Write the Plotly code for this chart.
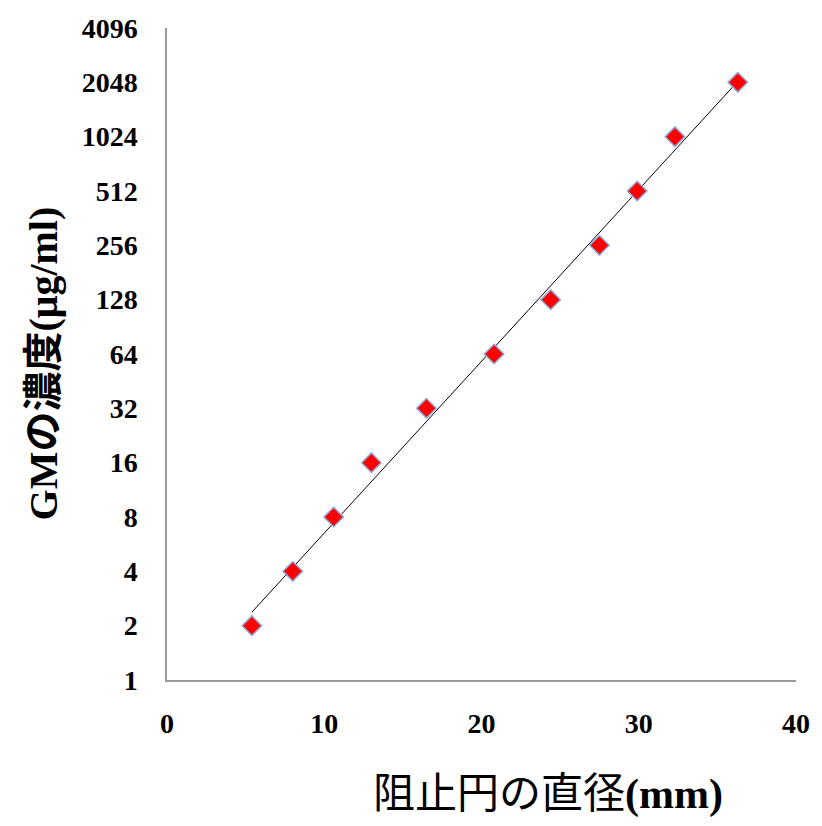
import numpy as np
import plotly.graph_objects as go

diameter_mm = [5.4, 8.0, 10.6, 13.0, 16.5, 20.8, 24.4, 27.5, 29.9, 32.3, 36.3]
gm_conc = [2, 4, 8, 16, 32, 64, 128, 256, 512, 1024, 2048]
y_ticks = [1, 2, 4, 8, 16, 32, 64, 128, 256, 512, 1024, 2048, 4096]
x_ticks = [0, 10, 20, 30, 40]

# exponential trendline (least squares on log scale)
xd = np.array(diameter_mm)
slope, intercept = np.polyfit(xd, np.log2(gm_conc), 1)
xt = np.array([xd.min(), xd.max()])
yt = 2 ** (slope * xt + intercept)

fig = go.Figure()
fig.add_trace(go.Scatter(x=xt, y=yt, mode="lines",
                         line=dict(color="black", width=1), showlegend=False))
fig.add_trace(go.Scatter(x=diameter_mm, y=gm_conc, mode="markers",
                         marker=dict(symbol="diamond", size=15, color="#ff0000",
                                     line=dict(color="#8fa8d8", width=1.5)),
                         showlegend=False))

tickfont = dict(family="Liberation Serif, DejaVu Serif, serif", size=28, color="black",
                weight="bold")
fig.update_layout(
    width=822, height=826,
    margin=dict(l=167, r=22, t=28, b=146),
    paper_bgcolor="white", plot_bgcolor="white",
    showlegend=False,
    xaxis=dict(range=[0, 40], tickvals=x_ticks, ticktext=[str(v) for v in x_ticks],
               showgrid=False, zeroline=False, showline=True, linecolor="#999999",
               linewidth=1.5, ticks="", tickfont=tickfont, ticklabelstandoff=18),
    yaxis=dict(type="log", range=[0, np.log10(4096)], tickvals=y_ticks,
               ticktext=[str(v) for v in y_ticks],
               showgrid=False, zeroline=False, showline=True, linecolor="#999999",
               linewidth=1.5, ticks="", tickfont=tickfont, ticklabelstandoff=22),
    annotations=[
        dict(text="<b>GMの濃度(μg/ml)</b>", xref="paper", yref="paper",
             x=-0.235, y=0.485, textangle=-90, showarrow=False,
             font=dict(family="Liberation Serif, Noto Sans CJK JP, serif", size=40, color="black")),
        dict(text="阻止円の直径<b>(mm)</b>", xref="paper", yref="paper",
             x=0.605, y=-0.215, showarrow=False,
             font=dict(family="Liberation Serif, Noto Sans CJK JP, serif", size=42, color="black")),
    ],
)
fig.write_html("out.html")
